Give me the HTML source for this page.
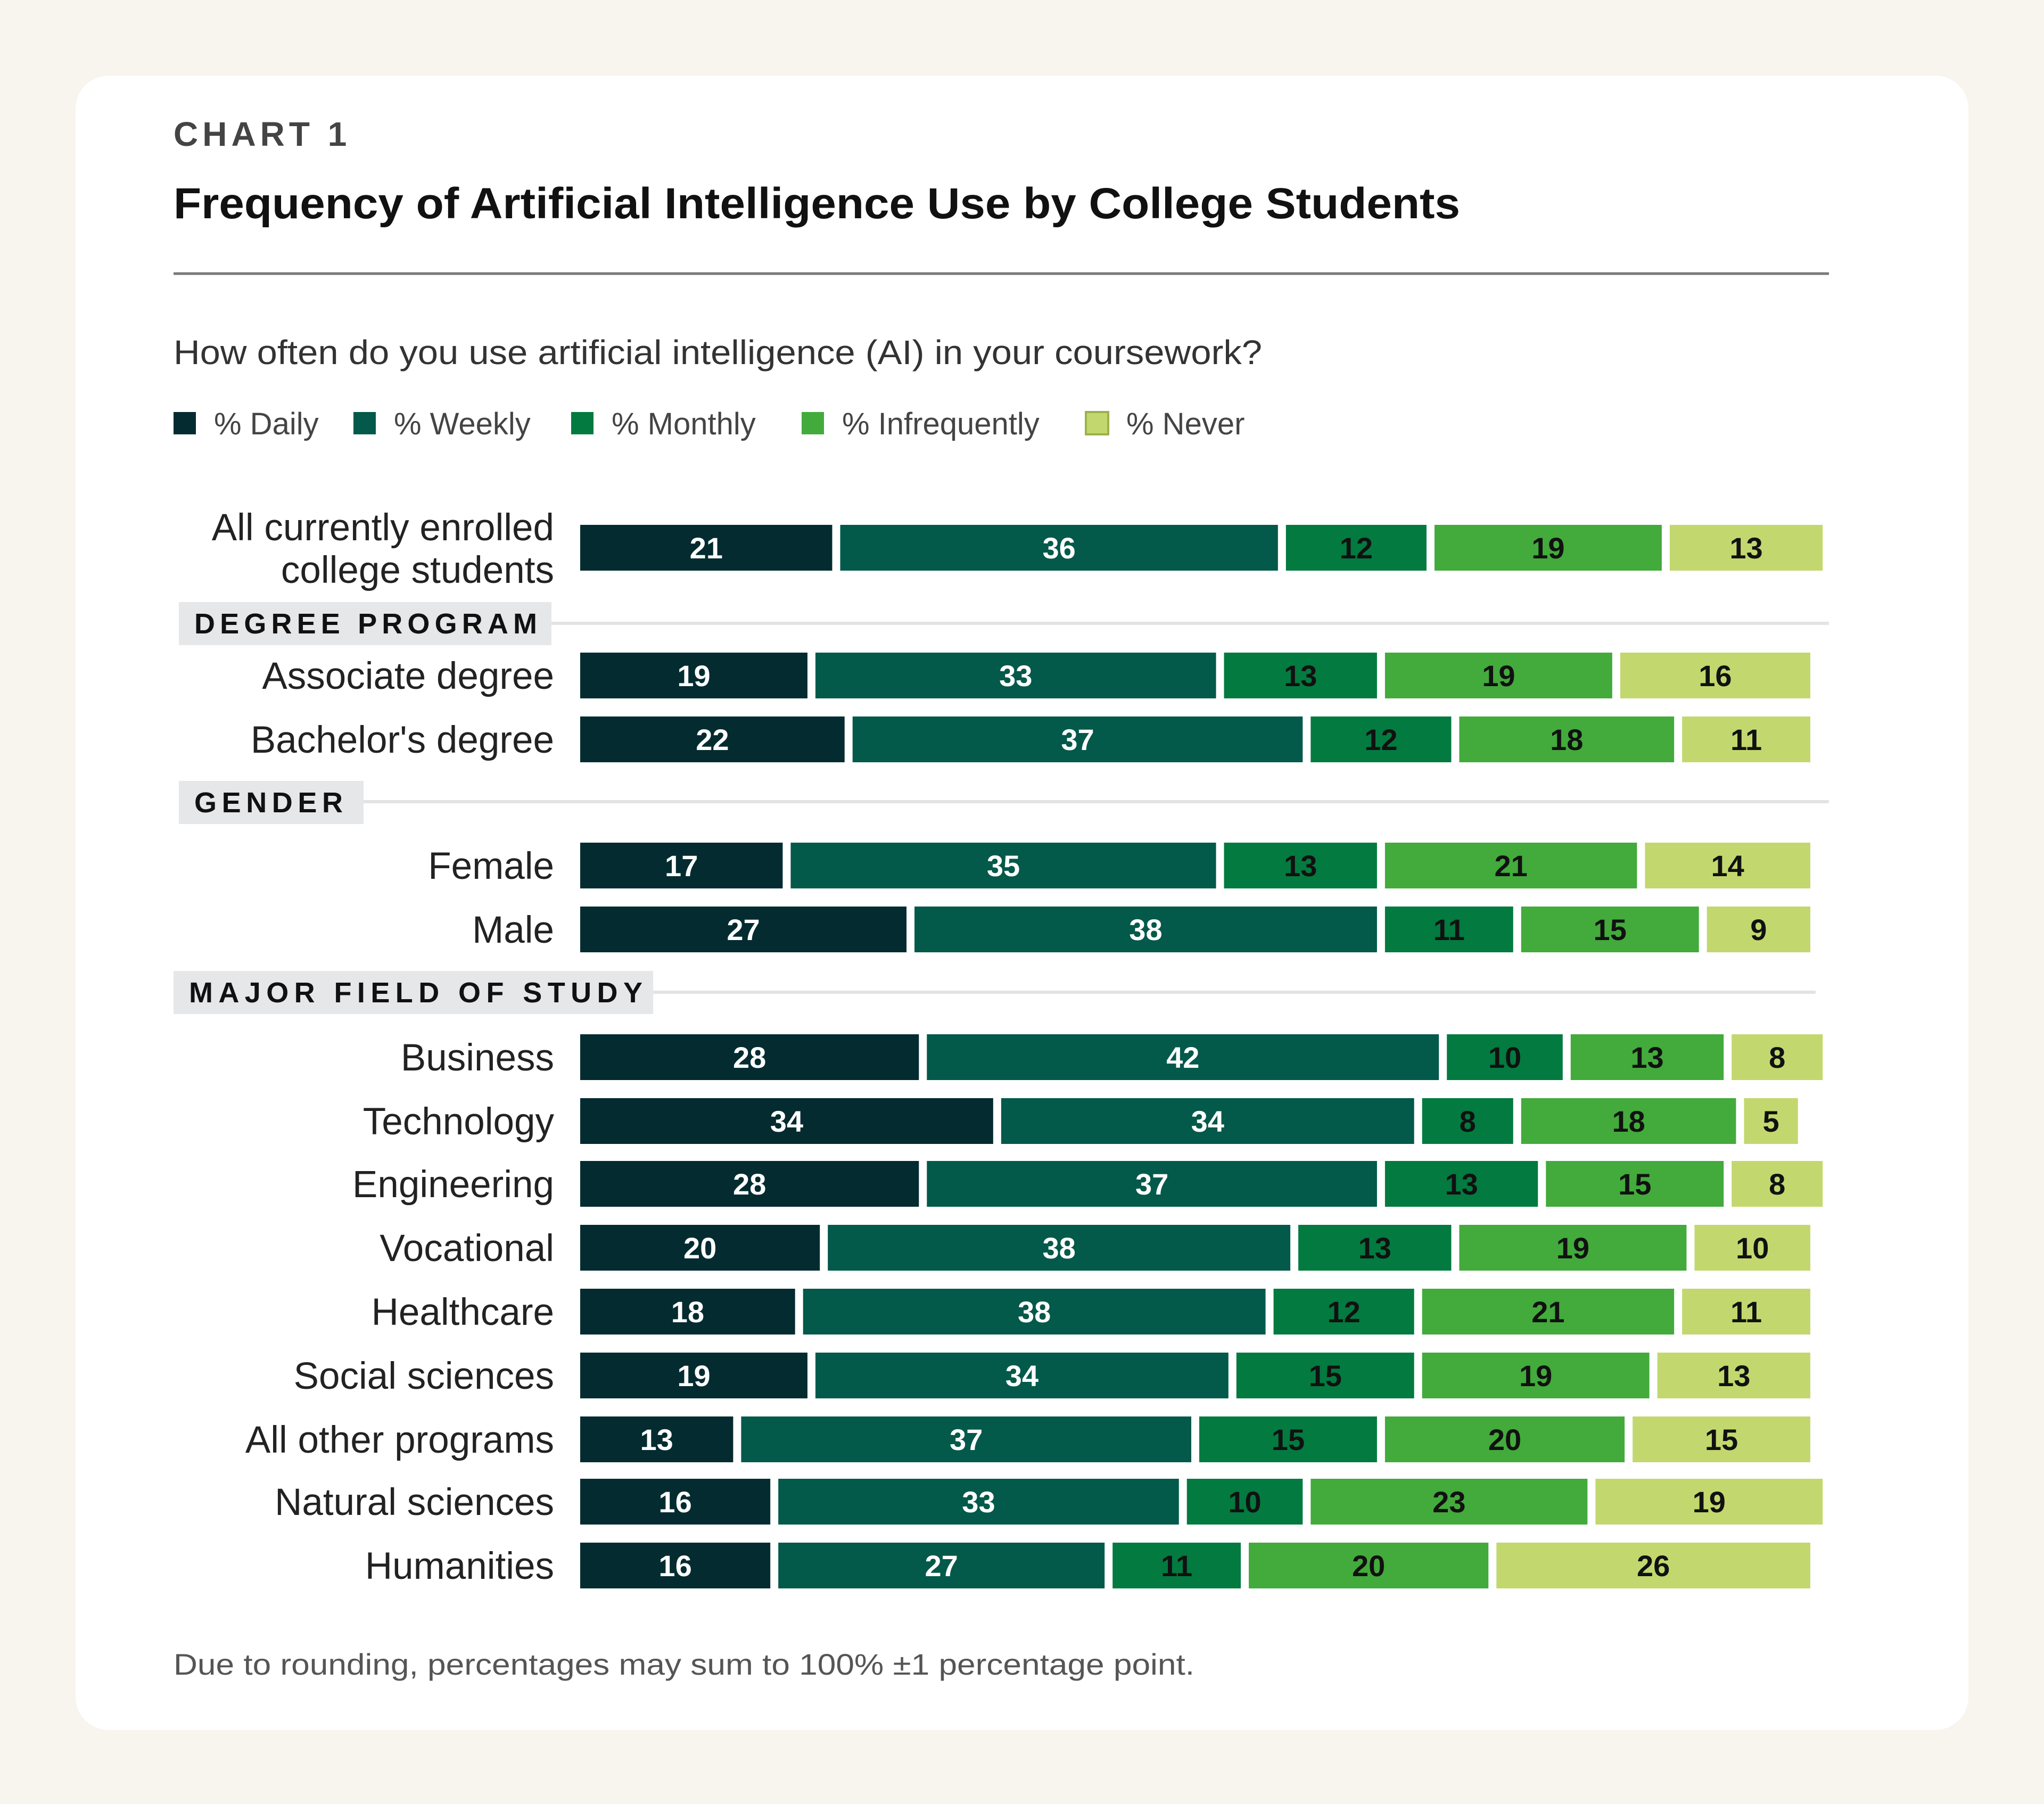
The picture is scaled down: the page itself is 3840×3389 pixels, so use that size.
<!DOCTYPE html>
<html><head><meta charset="utf-8"><style>
html,body{margin:0;padding:0;background:#f8f4ee;}
svg{display:block;font-family:"Liberation Sans",sans-serif;}
</style></head><body>
<svg id="chart" width="3840" height="3389" viewBox="0 0 3840 3389" xmlns="http://www.w3.org/2000/svg">
<rect x="0" y="0" width="3840" height="3389" fill="#f8f4ee"/>
<rect x="142" y="142" width="3556" height="3108" rx="62" fill="#ffffff"/>
<text x="326" y="274" font-size="64" font-weight="bold" fill="#444" letter-spacing="8">CHART 1</text>
<text x="326" y="410" font-size="82" font-weight="bold" fill="#111" textLength="2417" lengthAdjust="spacingAndGlyphs">Frequency of Artificial Intelligence Use by College Students</text>
<line x1="326" y1="514" x2="3436" y2="514" stroke="#7a7a7a" stroke-width="5"/>
<text x="326" y="684" font-size="64" fill="#333" textLength="2045" lengthAdjust="spacingAndGlyphs">How often do you use artificial intelligence (AI) in your coursework?</text>
<g id="legend"></g>
<g id="sections"></g>
<g id="rows"></g>
<text x="326" y="3146" font-size="56" fill="#555" textLength="1918" lengthAdjust="spacingAndGlyphs">Due to rounding, percentages may sum to 100% ±1 percentage point.</text>
</svg>
<script>
const categories = ["All currently enrolled|college students","Associate degree","Bachelor's degree","Female","Male","Business","Technology","Engineering","Vocational","Healthcare","Social sciences","All other programs","Natural sciences","Humanities"];
const daily = [21,19,22,17,27,28,34,28,20,18,19,13,16,16];
const weekly = [36,33,37,35,38,42,34,37,38,38,34,37,33,27];
const monthly = [12,13,12,13,11,10,8,13,13,12,15,15,10,11];
const infrequently = [19,19,18,21,15,13,18,15,19,21,19,20,23,20];
const never = [13,16,11,14,9,8,5,8,10,11,13,15,19,26];
const seriesNames = ["% Daily","% Weekly","% Monthly","% Infrequently","% Never"];
const sectionNames = ["DEGREE PROGRAM","GENDER","MAJOR FIELD OF STUDY"];

const NS="http://www.w3.org/2000/svg";
const colors=["#032b30","#03594a","#037a40","#43aa3c","#c2d86e"];
const textColors=["#fff","#fff","#111","#111","#111"];
const series=[daily,weekly,monthly,infrequently,never];
const x0=1090, unit=23.26, gap=15, barH=86;
const xScale=v=>v*unit;
const rowY=[1029,1269,1389,1626,1746,1986,2106,2224,2344,2464,2584,2704,2821,2941];
function mk(tag,attrs,parent){const e=document.createElementNS(NS,tag);for(const k in attrs)e.setAttribute(k,attrs[k]);parent.appendChild(e);return e;}

const lg=document.getElementById('legend');
const lgX=[326,664,1073,1506,2040];
seriesNames.forEach((n,i)=>{
  const r=mk('rect',{x:lgX[i],y:774,width:42,height:42,fill:colors[i]},lg);
  
  
  if(i===4){r.setAttribute('stroke','#9bb24a');r.setAttribute('stroke-width','4');}
  const t=mk('text',{x:lgX[i]+76,y:816,'font-size':58,fill:'#444'},lg);
  t.textContent=n;
  
  
});

const sg=document.getElementById('sections');
const secs=[{bx:336,bw:700,by:1131,ly:1171,le:3436,tx:365,tl:644},{bx:336,bw:347,by:1467,ly:1506,le:3436,tx:365,tl:279},{bx:326,bw:901,by:1824,ly:1864,le:3411,tx:355,tl:852}];
secs.forEach((s,i)=>{
  const l=mk('line',{x1:s.bx+s.bw,y1:s.ly,x2:s.le,y2:s.ly,stroke:'#e2e4e4','stroke-width':6},sg);
  
  
  const r=mk('rect',{x:s.bx,y:s.by,width:s.bw,height:81,fill:'#e6e7e8'},sg);
  
  
  const t=mk('text',{x:s.tx,y:s.by+59,'font-size':54,'font-weight':'bold',fill:'#111',textLength:s.tl,lengthAdjust:'spacing'},sg);
  t.textContent=sectionNames[i];
  
  
});

const rg=document.getElementById('rows');
categories.forEach((c,ri)=>{
  const cy=rowY[ri];
  const lines=c.split('|');
  lines.forEach((ln,li)=>{
    const yy = lines.length===1 ? cy+25 : cy-14+li*80;
    const t=mk('text',{x:1041,y:yy,'font-size':71,fill:'#222','text-anchor':'end'},rg);
    t.textContent=ln;
    
    
  });
  let acc=0;
  series.forEach((s,si)=>{
    const v=s[ri];
    const x=x0+xScale(acc);
    const w=xScale(v)-gap;
    const r=mk('rect',{x:x,y:cy-barH/2,width:w,height:barH,fill:colors[si]},rg);
    
    
    const t=mk('text',{x:x+w/2,y:cy+20,'font-size':56,'font-weight':'bold',fill:textColors[si],'text-anchor':'middle'},rg);
    t.textContent=v;
    
    
    acc+=v;
  });
});
</script>
</body></html>
